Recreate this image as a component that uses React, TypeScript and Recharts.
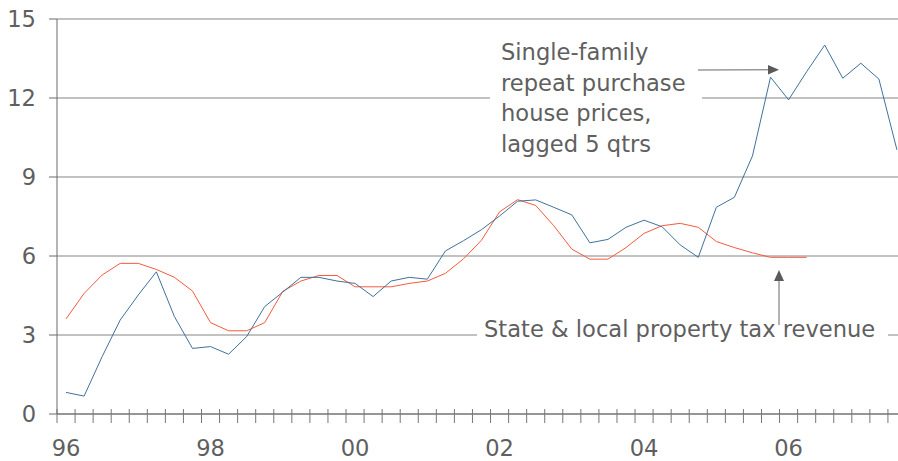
import { LineChart, Line, XAxis, YAxis, CartesianGrid } from 'recharts';

// quarters 1996Q1 .. 2007Q3
const quarters = [
  '96Q1', '96Q2', '96Q3', '96Q4', '97Q1', '97Q2', '97Q3', '97Q4',
  '98Q1', '98Q2', '98Q3', '98Q4', '99Q1', '99Q2', '99Q3', '99Q4',
  '00Q1', '00Q2', '00Q3', '00Q4', '01Q1', '01Q2', '01Q3', '01Q4',
  '02Q1', '02Q2', '02Q3', '02Q4', '03Q1', '03Q2', '03Q3', '03Q4',
  '04Q1', '04Q2', '04Q3', '04Q4', '05Q1', '05Q2', '05Q3', '05Q4',
  '06Q1', '06Q2', '06Q3', '06Q4', '07Q1', '07Q2', '07Q3',
];

// single-family repeat purchase house prices, lagged 5 qtrs (% y/y)
const housePrices = [
  0.82, 0.68, 2.18, 3.57, 4.52, 5.4, 3.7, 2.49,
  2.56, 2.27, 2.94, 4.08, 4.63, 5.19, 5.19, 5.05,
  4.96, 4.46, 5.05, 5.19, 5.12, 6.19, 6.58, 7.0,
  7.52, 8.08, 8.13, 7.85, 7.56, 6.5, 6.63, 7.09,
  7.36, 7.11, 6.42, 5.95, 7.85, 8.23, 9.8, 12.79,
  11.93, 13.0, 14.01, 12.75, 13.32, 12.72, 10.03,
];

// state & local property tax revenue (% y/y)
const taxRevenue = [
  3.61, 4.58, 5.28, 5.72, 5.72, 5.49, 5.19, 4.67,
  3.47, 3.16, 3.16, 3.47, 4.66, 5.05, 5.26, 5.26,
  4.83, 4.83, 4.83, 4.96, 5.05, 5.34, 5.89, 6.6,
  7.68, 8.14, 7.92, 7.15, 6.26, 5.88, 5.88, 6.32,
  6.86, 7.15, 7.24, 7.09, 6.55, 6.32, 6.12, 5.95,
  5.95, 5.95,
];

const yTicks = [0, 3, 6, 9, 12, 15];
const yearLabels = ['96', '98', '00', '02', '04', '06'];
const yearStartIdx = [0, 8, 16, 24, 32, 40];

const TEXT = '#5f5f5f';
const FONT = 'DejaVu Sans, Verdana, sans-serif';
const FS = 22.6;

const rows = quarters.map((name, i) => ({
  name,
  q: i + 0.5, // centre of the quarter's slot
  house: housePrices[i],
  tax: i < taxRevenue.length ? taxRevenue[i] : null,
}));

// boundaries between quarters get a tick mark, slot centres of year starts get a label
const xTicks = [
  ...quarters.map((_, i) => i),
  quarters.length,
  ...yearStartIdx.map((i) => i + 0.5),
];

function QuarterTick(props: any) {
  const { x, y, payload } = props;
  const v = payload.value as number;
  if (Number.isInteger(v)) {
    return <line x1={x} y1={y - 5} x2={x} y2={y + 9} stroke="#777" strokeWidth={1} />;
  }
  const k = yearStartIdx.indexOf(v - 0.5);
  return (
    <text x={x} y={y + 42} textAnchor="middle" fill={TEXT} fontSize={FS} fontFamily={FONT}>
      {yearLabels[k]}
    </text>
  );
}

export default function App() {
  return (
    <div
      style={{
        position: 'fixed',
        left: 0,
        top: 0,
        width: 898,
        height: 461,
        overflow: 'hidden',
        background: '#fff',
      }}
    >
      <LineChart width={906} height={461} data={rows} margin={{ top: 19, right: 0, bottom: 0, left: 0 }}>
        <CartesianGrid vertical={false} stroke="#858585" />
        <XAxis
          type="number"
          dataKey="q"
          domain={[0, quarters.length]}
          ticks={xTicks}
          interval={0}
          tickSize={0}
          tickMargin={0}
          tickLine={false}
          tick={<QuarterTick />}
          axisLine={{ stroke: '#6b6b6b' }}
          height={47}
        />
        <YAxis
          domain={[0, 15]}
          ticks={yTicks}
          interval={0}
          width={57}
          tickSize={8}
          tickMargin={13}
          axisLine={{ stroke: '#6b6b6b' }}
          tickLine={{ stroke: '#6b6b6b' }}
          tick={{ fill: TEXT, fontSize: FS, fontFamily: FONT }}
        />
        <Line
          dataKey="tax"
          stroke="#f65a3e"
          strokeWidth={1}
          dot={false}
          isAnimationActive={false}
        />
        <Line
          dataKey="house"
          stroke="#41719c"
          strokeWidth={1}
          dot={false}
          isAnimationActive={false}
        />
      </LineChart>

      {/* annotations */}
      <svg
        width={898}
        height={461}
        style={{ position: 'absolute', left: 0, top: 0, pointerEvents: 'none' }}
        fontFamily={FONT}
        fontSize={FS}
        fill={TEXT}
      >
        <rect x={490} y={32} width={212} height={128} fill="#fff" />
        <text x={501} y={60}>Single-family</text>
        <text x={501} y={90.6}>repeat purchase</text>
        <text x={501} y={121.2}>house prices,</text>
        <text x={501} y={151.8}>lagged 5 qtrs</text>
        <line x1={698} y1={70} x2={769} y2={69.8} stroke="#666" strokeWidth={1} />
        <polygon points="768,65 768,74.5 779,69.8" fill="#5a5a5a" />

        <rect x={477} y={318} width={411} height={28} fill="#fff" />
        <text x={484} y={337}>State &amp; local property tax revenue</text>
        <line x1={779} y1={325} x2={779} y2={280} stroke="#666" strokeWidth={1} />
        <polygon points="774,281 784,281 779,270" fill="#5a5a5a" />
      </svg>
    </div>
  );
}
